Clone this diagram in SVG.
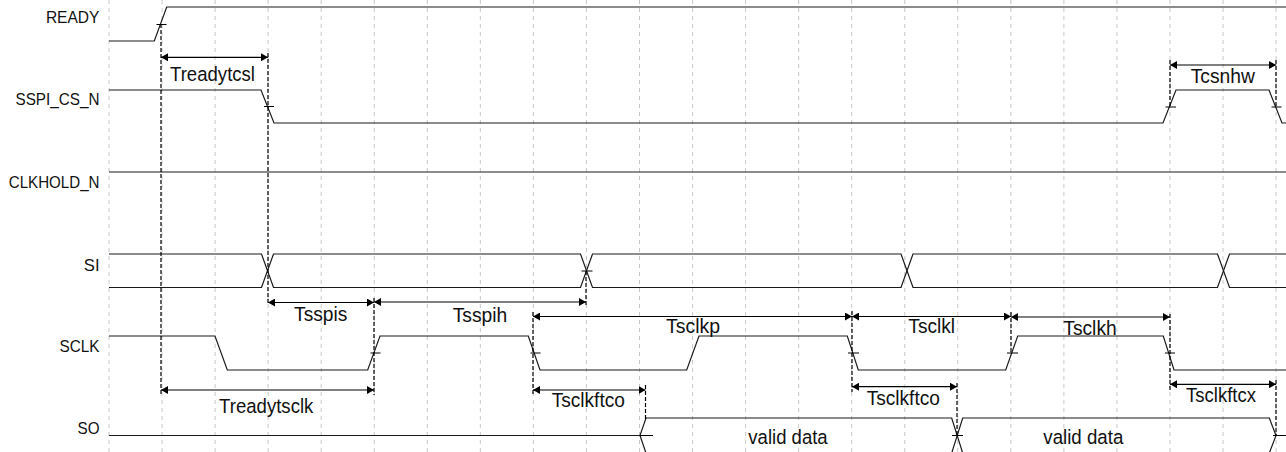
<svg xmlns="http://www.w3.org/2000/svg" width="1286" height="452" viewBox="0 0 1286 452">
<style>
.grid{stroke:#c8c8c8;stroke-width:1;stroke-dasharray:4 4;fill:none}
.sig{stroke:#1a1a1a;stroke-width:1.2;fill:none}
.ref{stroke:#000;stroke-width:1.2;stroke-dasharray:4 2;fill:none}
.tick{stroke:#000;stroke-width:1;fill:none}
.arr{stroke:#000;stroke-width:1.2;fill:none;marker-start:url(#ah);marker-end:url(#ah)}
.lbl{font-family:"Liberation Sans",Arial,sans-serif;font-size:16.5px;fill:#111;text-anchor:end}
.ml{font-family:"Liberation Sans",Arial,sans-serif;font-size:20.5px;fill:#111;text-anchor:middle}
</style>
<defs>
<marker id="ah" viewBox="0 0 7 8" refX="7" refY="4" markerWidth="7" markerHeight="8" markerUnits="userSpaceOnUse" orient="auto-start-reverse">
<path d="M0,0 L7,4 L0,8 z" fill="#000"/>
</marker>
</defs>
<rect width="1286" height="452" fill="#fff"/>
<g id="grid" class="grid">
<line x1="109" y1="0" x2="109" y2="452"/>
<line x1="162.05" y1="0" x2="162.05" y2="452"/>
<line x1="215.1" y1="0" x2="215.1" y2="452"/>
<line x1="268.15" y1="0" x2="268.15" y2="452"/>
<line x1="321.2" y1="0" x2="321.2" y2="452"/>
<line x1="374.25" y1="0" x2="374.25" y2="452"/>
<line x1="427.3" y1="0" x2="427.3" y2="452"/>
<line x1="480.35" y1="0" x2="480.35" y2="452"/>
<line x1="533.4" y1="0" x2="533.4" y2="452"/>
<line x1="586.45" y1="0" x2="586.45" y2="452"/>
<line x1="639.5" y1="0" x2="639.5" y2="452"/>
<line x1="692.55" y1="0" x2="692.55" y2="452"/>
<line x1="745.6" y1="0" x2="745.6" y2="452"/>
<line x1="798.65" y1="0" x2="798.65" y2="452"/>
<line x1="851.7" y1="0" x2="851.7" y2="452"/>
<line x1="904.75" y1="0" x2="904.75" y2="452"/>
<line x1="957.8" y1="0" x2="957.8" y2="452"/>
<line x1="1010.85" y1="0" x2="1010.85" y2="452"/>
<line x1="1063.9" y1="0" x2="1063.9" y2="452"/>
<line x1="1116.95" y1="0" x2="1116.95" y2="452"/>
<line x1="1170" y1="0" x2="1170" y2="452"/>
<line x1="1223.05" y1="0" x2="1223.05" y2="452"/>
<line x1="1276.1" y1="0" x2="1276.1" y2="452"/>
</g>
<g id="READY">
<text class="lbl" x="99.5" y="23.3" textLength="53.6" lengthAdjust="spacingAndGlyphs">READY</text>
<path class="sig" d="M109,41 H154.3 L166.7,7 H1286"/>
</g>
<g id="SSPI_CS_N">
<text class="lbl" x="99.5" y="105" textLength="84" lengthAdjust="spacingAndGlyphs">SSPI_CS_N</text>
<path class="sig" d="M109,90 H261 L274,123 H1163 L1176,90 H1269 L1282,123 H1286"/>
</g>
<g id="CLKHOLD_N">
<text class="lbl" x="99.5" y="187.7" textLength="90.7" lengthAdjust="spacingAndGlyphs">CLKHOLD_N</text>
<path class="sig" d="M109,172 H1286"/>
</g>
<g id="SI">
<text class="lbl" x="99.5" y="270.7" textLength="15.7" lengthAdjust="spacingAndGlyphs">SI</text>
<path class="sig" d="M109,254 H261.5 L273.5,287.5 H580.5 L592.5,254 H901 L913,287.5 H1217.5 L1229.5,254 H1286"/>
<path class="sig" d="M109,287.5 H261.5 L273.5,254 H580.5 L592.5,287.5 H901 L913,254 H1217.5 L1229.5,287.5 H1286"/>
</g>
<g id="SCLK">
<text class="lbl" x="99.5" y="352.3" textLength="40" lengthAdjust="spacingAndGlyphs">SCLK</text>
<path class="sig" d="M109,336 H215 L227.3,370 H367.7 L380,336 H528.3 L540,370 H686.7 L699,336 H847.3 L858.3,370 H1005.7 L1017.7,336 H1163.3 L1174,370 H1286"/>
</g>
<g id="SO">
<text class="lbl" x="99.5" y="434" textLength="22" lengthAdjust="spacingAndGlyphs">SO</text>
<path class="sig" d="M109,435.5 H640 L646,418 H951.7 L962.7,453 H1269.3 L1276,435.5 H1286"/>
<path class="sig" d="M640,435.5 L646,453 H951.7 L962.7,418 H1269.3 L1276,435.5"/>
<text class="ml" x="788" y="444" textLength="79.3" lengthAdjust="spacingAndGlyphs">valid data</text>
<text class="ml" x="1083.3" y="443.5" textLength="80" lengthAdjust="spacingAndGlyphs">valid data</text>
</g>
<g id="connectors">
<g class="ref">
<line x1="161" y1="24" x2="161" y2="395"/>
<line x1="268" y1="53" x2="268" y2="303"/>
<line x1="374" y1="298" x2="374" y2="395"/>
<line x1="586" y1="271" x2="586" y2="306"/>
<line x1="533" y1="312" x2="533" y2="395"/>
<line x1="645.5" y1="385" x2="645.5" y2="420"/>
<line x1="852" y1="311" x2="852" y2="392"/>
<line x1="957" y1="383" x2="957" y2="435"/>
<line x1="1011" y1="312" x2="1011" y2="353"/>
<line x1="1170" y1="60" x2="1170" y2="108"/>
<line x1="1170" y1="314" x2="1170" y2="391"/>
<line x1="1276" y1="60" x2="1276" y2="108"/>
<line x1="1276" y1="380" x2="1276" y2="435"/>
</g>
<g class="tick">
<line x1="156.5" y1="24.5" x2="166.5" y2="24.5"/>
<line x1="264" y1="106.5" x2="274" y2="106.5"/>
<line x1="1165.5" y1="107" x2="1176" y2="107"/>
<line x1="1271.5" y1="107" x2="1281.5" y2="107"/>
<line x1="581.5" y1="271" x2="592.5" y2="271"/>
<line x1="370.5" y1="353" x2="380.5" y2="353"/>
<line x1="530.5" y1="353" x2="540.5" y2="353"/>
<line x1="848" y1="353" x2="859" y2="353"/>
<line x1="1007" y1="353" x2="1018" y2="353"/>
<line x1="1165" y1="353" x2="1175" y2="353"/>
<line x1="640" y1="435.5" x2="653" y2="435.5"/>
<line x1="952" y1="435.5" x2="963" y2="435.5"/>
<line x1="1273" y1="435.5" x2="1285" y2="435.5"/>
</g>
<g id="Treadytcsl"><line class="arr" x1="161" y1="57.3" x2="268" y2="57.3"/><text class="ml" x="212.5" y="81" textLength="85" lengthAdjust="spacingAndGlyphs">Treadytcsl</text></g>
<g id="Tcsnhw"><line class="arr" x1="1170" y1="65" x2="1276" y2="65"/><text class="ml" x="1222.8" y="83" textLength="64.3" lengthAdjust="spacingAndGlyphs">Tcsnhw</text></g>
<g id="Tsspis"><line class="arr" x1="268" y1="302.5" x2="374" y2="302.5"/><text class="ml" x="320.7" y="320.7" textLength="53.3" lengthAdjust="spacingAndGlyphs">Tsspis</text></g>
<g id="Tsspih"><line class="arr" x1="374" y1="302" x2="586" y2="302"/><text class="ml" x="480" y="321.5" textLength="54.6" lengthAdjust="spacingAndGlyphs">Tsspih</text></g>
<g id="Tsclkp"><line class="arr" x1="533" y1="316.5" x2="852" y2="316.5"/><text class="ml" x="693" y="333" textLength="54" lengthAdjust="spacingAndGlyphs">Tsclkp</text></g>
<g id="Tsclkl"><line class="arr" x1="852" y1="316.5" x2="1011" y2="316.5"/><text class="ml" x="931.7" y="333" textLength="46.7" lengthAdjust="spacingAndGlyphs">Tsclkl</text></g>
<g id="Tsclkh"><line class="arr" x1="1011" y1="317" x2="1170" y2="317"/><text class="ml" x="1090" y="335" textLength="53.4" lengthAdjust="spacingAndGlyphs">Tsclkh</text></g>
<g id="Treadytsclk"><line class="arr" x1="161" y1="390" x2="374" y2="390"/><text class="ml" x="266.2" y="413" textLength="94.3" lengthAdjust="spacingAndGlyphs">Treadytsclk</text></g>
<g id="Tsclkftco1"><line class="arr" x1="533" y1="390" x2="645.5" y2="390"/><text class="ml" x="588.3" y="407" textLength="73.3" lengthAdjust="spacingAndGlyphs">Tsclkftco</text></g>
<g id="Tsclkftco2"><line class="arr" x1="852" y1="386.7" x2="957" y2="386.7"/><text class="ml" x="903.3" y="405" textLength="73.3" lengthAdjust="spacingAndGlyphs">Tsclkftco</text></g>
<g id="Tsclkftcx"><line class="arr" x1="1170" y1="384.3" x2="1276" y2="384.3"/><text class="ml" x="1221" y="402" textLength="70" lengthAdjust="spacingAndGlyphs">Tsclkftcx</text></g>
</g>
</svg>
